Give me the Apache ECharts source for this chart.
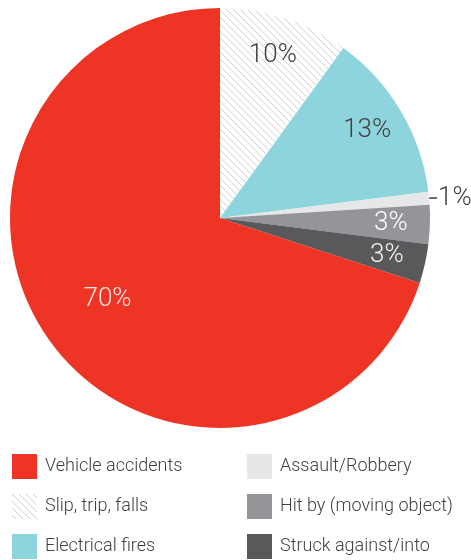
<!DOCTYPE html>
<html>
<head>
<meta charset="utf-8">
<script src="https://cdn.jsdelivr.net/npm/echarts@6/dist/echarts.min.js"></script>
<style>
    html, body { margin: 0; padding: 0; background: #fff; }
    #main { width: 471px; height: 560px; }
</style>
</head>
<body>
<div id="main"></div>
<script>
// slices clockwise from 12 o'clock
const categories = ['Slip, trip, falls', 'Electrical fires', 'Assault/Robbery',
    'Hit by (moving object)', 'Struck against/into', 'Vehicle accidents'];
const values = [10, 13, 1, 3, 3, 70];

// legend columns
const legendLeft = ['Vehicle accidents', 'Slip, trip, falls', 'Electrical fires'];
const legendRight = ['Assault/Robbery', 'Hit by (moving object)', 'Struck against/into'];

const font = 'Roboto, "Noto Sans", sans-serif';
const pieCenter = [220, 218];
const pieRadius = 210;

// hatch pattern for "Slip, trip, falls"
function makeHatch() {
    const s = 7;
    const c = document.createElement('canvas');
    c.width = s; c.height = s;
    const ctx = c.getContext('2d');
    ctx.strokeStyle = '#cfcfcf';
    ctx.lineWidth = 1;
    ctx.beginPath();
    ctx.moveTo(0, 0); ctx.lineTo(s, s);
    ctx.moveTo(-1, s - 1); ctx.lineTo(1, s + 1);
    ctx.moveTo(s - 1, -1); ctx.lineTo(s + 1, 1);
    ctx.stroke();
    return c;
}

const sliceColors = {
    'Slip, trip, falls': { image: makeHatch(), repeat: 'repeat' },
    'Electrical fires': '#8dd4dd',
    'Assault/Robbery': '#e6e7e8',
    'Hit by (moving object)': '#939598',
    'Struck against/into': '#58595b',
    'Vehicle accidents': '#ee3424'
};
const labelColors = {
    'Slip, trip, falls': '#414042',
    'Electrical fires': '#414042',
    'Assault/Robbery': '#414042',
    'Hit by (moving object)': '#ffffff',
    'Struck against/into': '#f2f2f2',
    'Vehicle accidents': '#fbe6e3'
};
// how far from the centre each inside label sits
const labelDist = { 'Vehicle accidents': 139 };
const defaultLabelDist = 171;

const seriesData = categories.map((name, i) => {
    const item = {
        name: name,
        value: values[i],
        itemStyle: { color: sliceColors[name] },
        label: { color: labelColors[name] }
    };
    if (name === 'Assault/Robbery') {
        item.label.position = 'outside';
        item.labelLine = { show: true, length: 2, length2: 6, lineStyle: { color: '#414042', width: 1.5 } };
        item.label.distanceToLabelLine = 1;
    }
    return item;
});

const legendBase = {
    orient: 'vertical',
    top: 454,
    padding: 0,
    itemWidth: 25,
    itemHeight: 25,
    itemGap: 15,
    icon: 'rect',
    selectedMode: false,
    textStyle: { fontFamily: font, fontSize: 18, fontWeight: 300, color: '#414042', padding: [0, 0, 0, 3] }
};

const chart = echarts.init(document.getElementById('main'));
chart.setOption({
    animation: false,
    legend: [
        Object.assign({}, legendBase, { left: 12, data: legendLeft }),
        Object.assign({}, legendBase, { left: 247, data: legendRight })
    ],
    series: [{
        type: 'pie',
        center: pieCenter,
        radius: pieRadius,
        startAngle: 90,
        clockwise: true,
        avoidLabelOverlap: false,
        silent: true,
        itemStyle: { borderWidth: 0 },
        label: {
            show: true,
            position: 'inside',
            formatter: '{c}%',
            fontFamily: font,
            fontSize: 26,
            fontWeight: 300
        },
        labelLine: { show: false },
        labelLayout: function (params) {
            const name = categories[params.dataIndex];
            if (name === 'Assault/Robbery') return {};
            const r = params.labelRect;
            const vx = r.x + r.width / 2 - pieCenter[0];
            const vy = r.y + r.height / 2 - pieCenter[1];
            const len = Math.sqrt(vx * vx + vy * vy) || 1;
            const target = labelDist[name] || defaultLabelDist;
            const k = target / len - 1;
            return { dx: vx * k, dy: vy * k };
        },
        data: seriesData
    }]
});
</script>
</body>
</html>
